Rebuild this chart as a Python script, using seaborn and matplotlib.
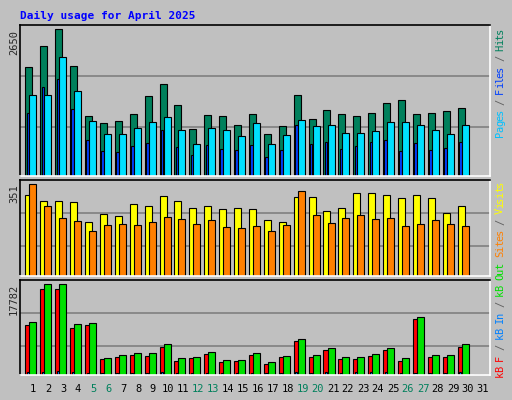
import matplotlib
matplotlib.use("Agg")
import matplotlib.pyplot as plt
import numpy as np
import pandas as pd
import seaborn as sns

days = list(range(1, 32))
weekends = [5, 6, 12, 13, 19, 20, 26, 27]

hits = [1963, 2349, 2650, 1981, 1078, 952, 988, 1114, 1439, 1656, 1277, 843, 1096, 1078, 915, 1114, 753, 897, 1457, 1024, 1187, 1114, 1078, 1132, 1313, 1367, 1114, 1132, 1168, 1222, 0]
files = [1463, 1463, 2144, 1536, 988, 753, 753, 861, 970, 1060, 825, 572, 861, 825, 717, 952, 572, 735, 1006, 897, 915, 771, 771, 807, 970, 970, 915, 825, 753, 915, 0]
pages = [1132, 1596, 1741, 1204, 644, 446, 428, 536, 590, 825, 518, 373, 554, 482, 464, 554, 337, 464, 915, 572, 608, 482, 536, 608, 644, 446, 590, 464, 500, 608, 0]
visits = [309, 286, 286, 282, 206, 237, 229, 275, 267, 305, 286, 259, 267, 256, 259, 256, 214, 206, 301, 301, 247, 259, 317, 317, 309, 298, 309, 298, 240, 267, 0]
sites = [351, 267, 221, 210, 172, 195, 198, 195, 206, 225, 217, 198, 214, 187, 183, 191, 172, 195, 324, 233, 202, 221, 233, 217, 221, 191, 198, 214, 198, 191, 0]
kb_f = [9705, 16900, 16900, 9119, 9705, 3061, 3452, 3843, 3647, 5406, 2671, 3257, 4038, 2475, 2671, 3843, 2084, 3452, 6578, 3452, 4820, 3061, 3061, 3647, 4820, 2671, 10877, 3452, 3452, 5406, 0]
kb_out = [10291, 17782, 17782, 9900, 10095, 3257, 3843, 4234, 4234, 5992, 3257, 3452, 4429, 2866, 2866, 4234, 2475, 3647, 6969, 3843, 5210, 3452, 3452, 4038, 5210, 3257, 11267, 3843, 3843, 5992, 0]
kb_in = [600, 600, 800, 600, 300, 300, 300, 300, 400, 500, 300, 300, 300, 300, 300, 400, 300, 300, 500, 300, 500, 300, 500, 500, 500, 300, 300, 300, 400, 500, 0]

BG = "#c0c0c0"
MONO = "DejaVu Sans Mono"

sns.set_theme(style="white")
plt.rcParams["font.family"] = [MONO]

fig = plt.figure(figsize=(5.12, 4.0), dpi=100)
fig.patch.set_facecolor(BG)
W, H = 512, 400
XLIM = (1 - 13 / 15, 31 + 10 / 15)


def panel(top, bottom, vmax, vmax_px, grids):
    ax = fig.add_axes([20 / W, 1 - bottom / H, 470 / W, (bottom - top) / H])
    ax.set_facecolor(BG)
    ax.set_ylim(0, vmax * (bottom - top) / vmax_px)
    for g in grids:
        ax.axhline(g, color="#808080", lw=1.2, zorder=0)
    for s in ["left", "top"]:
        ax.spines[s].set_color("#000000")
    for s in ["right", "bottom"]:
        ax.spines[s].set_color("#ffffff")
    for s in ax.spines.values():
        s.set_linewidth(1.2)
    return ax


def bars(ax, vals, offset, width, color):
    df = pd.DataFrame({"x": np.array(days) + offset, "y": vals})
    sns.barplot(data=df, x="x", y="y", native_scale=True, width=width,
                color=color, saturation=1, edgecolor="black", linewidth=0.8, ax=ax)
    ax.set_xlabel("")
    ax.set_ylabel("")
    ax.set_xticks([])
    ax.set_yticks([])
    ax.set_xlim(*XLIM)


def side_label(y_bottom, parts):
    # one glyph at a time so the coloured pieces line up
    y = y_bottom
    for txt, col in parts:
        for ch in txt:
            if ch != " ":
                fig.text(500 / W, 1 - y / H, ch, color=col, rotation=90, fontsize=7.5,
                         ha="center", va="bottom", family=MONO)
            y -= 5.4


ax1 = panel(25, 176, 2650, 147, [883, 1803])
bars(ax1, hits, -0.27, 0.47, "#00805c")
bars(ax1, pages, -0.33, 0.17, "#0040ff")
bars(ax1, files, 0.0, 0.47, "#00e0ff")

ax2 = panel(180, 276, 351, 91.7, [114, 240])
bars(ax2, visits, -0.27, 0.47, "#ffff00")
bars(ax2, sites, 0.0, 0.47, "#ff8000")

ax3 = panel(280, 375, 17782, 91, [5666, 12115])
bars(ax3, kb_f, -0.27, 0.47, "#ff0000")
bars(ax3, kb_in, -0.33, 0.14, "#0080ff")
bars(ax3, kb_out, 0.0, 0.47, "#00e000")

for d in days:
    x = (20 + (d - XLIM[0]) * 15) / W
    fig.text(x, 1 - 389 / H, str(d), ha="center", va="center", fontsize=7.5,
             color="#00805c" if d in weekends else "black")

for y, label in [(30, "2650"), (184, "351"), (284, "17782")]:
    fig.text(14 / W, 1 - y / H, label, rotation=90, ha="center", va="top", fontsize=7.5)

side_label(137, [("Pages", "#00c0ff"), (" / ", "#606060"), ("Files", "#0040ff"),
                 (" / ", "#606060"), ("Hits", "#00805c")])
side_label(257, [("Sites", "#ff8000"), (" / ", "#606060"), ("Visits", "#ffff00")])
side_label(377, [("kB F", "#ff0000"), (" / ", "#606060"), ("kB In", "#0080ff"),
                 (" / ", "#606060"), ("kB Out", "#00e000")])

fig.text(20 / W, 1 - 16 / H, "Daily usage for April 2025", color="#0000ff",
         fontsize=8, fontweight="bold", ha="left", va="center")

fig.savefig("out.png", dpi=100, facecolor=BG)
